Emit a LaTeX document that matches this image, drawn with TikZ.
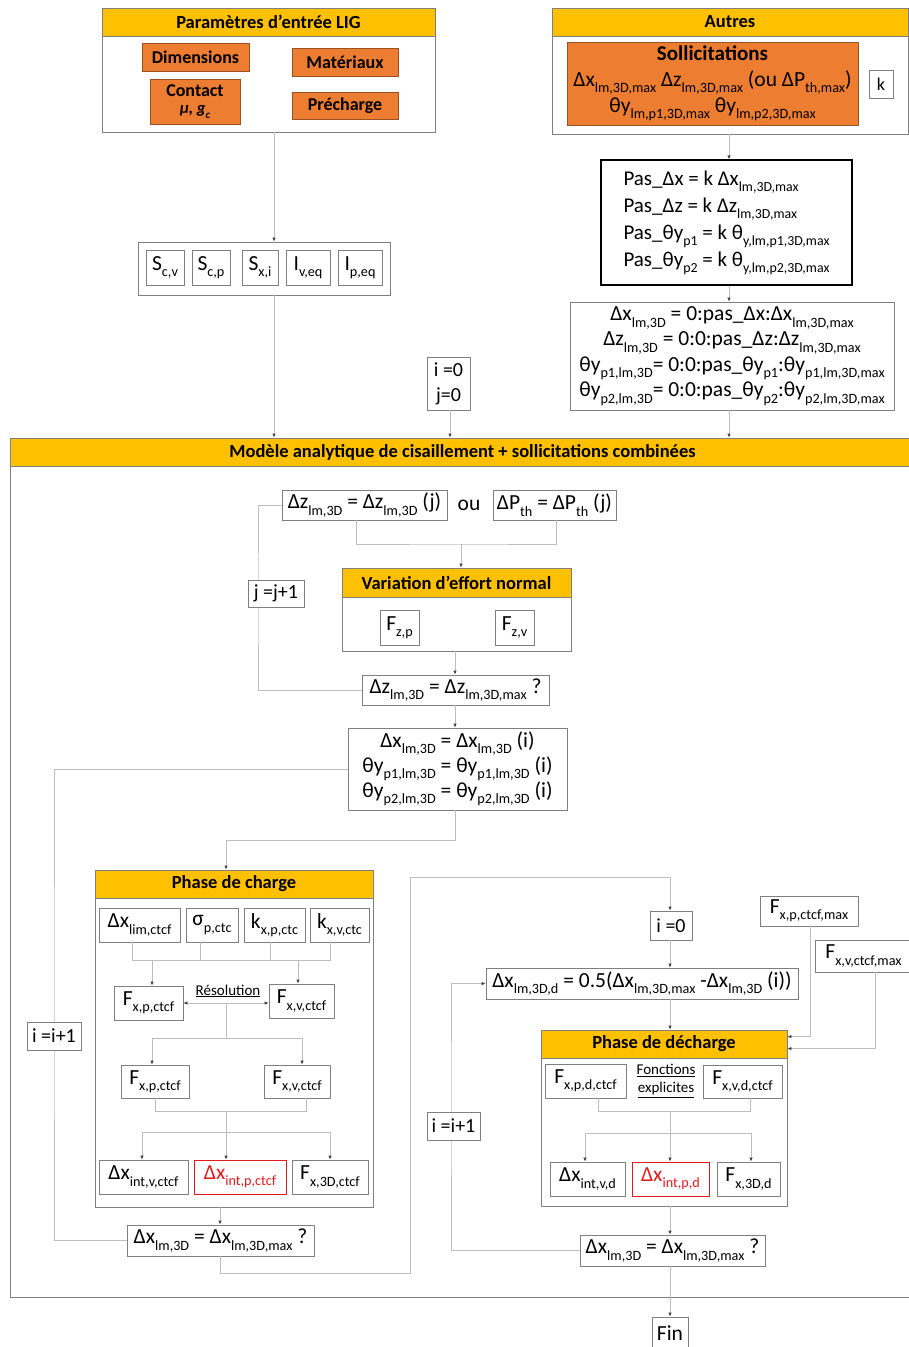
\documentclass[tikz,border=0pt]{standalone}
\usepackage{fontspec}
\setmainfont{Carlito}
\usetikzlibrary{arrows.meta,positioning}
\definecolor{HeadYellow}{HTML}{FFC000}
\definecolor{BoxOrange}{HTML}{ED7D31}
\definecolor{OrangeEdge}{HTML}{9C5220}
\definecolor{EdgeGray}{HTML}{7F7F7F}
\definecolor{LinkGray}{HTML}{BDBDBD}
\definecolor{TipInk}{HTML}{404040}
\definecolor{AlertRed}{HTML}{E31A1C}
\newcommand\dn[1]{\raisebox{-0.3em}{\scalebox{0.66}{#1}}}

\begin{document}
\begin{tikzpicture}[x=1pt, y=-1pt,
  sz/.style 2 args={minimum width=#1pt, minimum height=#2pt},
  frame/.style={draw=EdgeGray, line width=0.8pt, inner sep=0pt},
  head/.style={draw=EdgeGray, fill=HeadYellow, line width=0.8pt, inner sep=0pt,
               font=\bfseries\fontsize{18.5}{21}\selectfont},
  obox/.style={draw=OrangeEdge, fill=BoxOrange, line width=0.8pt, inner sep=0pt,
               align=center, font=\bfseries\fontsize{18}{20}\selectfont},
  vbox/.style={draw=EdgeGray, fill=white, line width=0.8pt, inner sep=0pt,
               align=center, font=\fontsize{21.5}{25}\selectfont},
  rbox/.style={vbox, draw=AlertRed, text=AlertRed},
  note/.style={inner sep=0pt, align=center, font=\fontsize{15}{18}\selectfont},
  wire/.style={draw=LinkGray, line width=0.9pt},
  link/.style={wire, -{Latex[length=4pt,width=3.5pt,color=TipInk]}},
  twolink/.style={wire, {Latex[length=4pt,width=3.5pt,color=TipInk]}-{Latex[length=4pt,width=3.5pt,color=TipInk]}}
]
\useasboundingbox (0,0) rectangle (909,1347);

\node[frame, sz={333}{124}] (lig) at (268.5,70) {};
\node[head, sz={333}{28}] (ligh) at (268.5,22) {Paramètres d’entrée LIG};
\node[obox, sz={107}{28}] (dim) at (195.5,57) {Dimensions};
\node[obox, sz={106}{28}] (mat) at (345,62) {Matériaux};
\node[obox, sz={90}{45}] (con) at (195,101.5) {Contact\\[-3pt]{\fontsize{16.5}{17}\selectfont\itshape μ, g\dn{c}}};
\node[obox, sz={106}{27}] (pre) at (345,105.5) {Précharge};

\node[frame, sz={356}{126}] (aut) at (730,71) {};
\node[head, sz={356}{28}] (auth) at (730,22) {Autres};
\node[obox, sz={291}{83}, font=\fontsize{21.5}{26}\selectfont] (sol) at (712.5,83.5)
  {\textbf{\fontsize{21}{24}\selectfont Sollicitations}\\Δx\dn{lm,3D,max} Δz\dn{lm,3D,max} (ou ΔP\dn{th,max})\\θy\dn{lm,p1,3D,max} θy\dn{lm,p2,3D,max}};
\node[vbox, sz={24}{28}, font=\fontsize{18}{20}\selectfont] (k) at (881,84) {k};

\node[frame, sz={252}{53}] (sgrp) at (264,268.5) {};
\node[vbox, sz={38}{35}] (scv) at (165,267.5) {S\dn{c,v}};
\node[vbox, sz={38}{35}] (scp) at (211,267.5) {S\dn{c,p}};
\node[vbox, sz={36}{35}] (sxi) at (260,267.5) {S\dn{x,i}};
\node[vbox, sz={44}{35}] (ive) at (308,267.5) {I\dn{v,eq}};
\node[vbox, sz={44}{35}] (ipe) at (360,267.5) {I\dn{p,eq}};

\node[vbox, sz={251}{125}, draw=black, line width=1.3pt, align=left, font=\fontsize{21}{27}\selectfont] (pas) at (726.5,222.5)
  {Pas\_Δx = k Δx\dn{lm,3D,max}\\Pas\_Δz = k Δz\dn{lm,3D,max}\\Pas\_θy\dn{p1} = k θ\dn{y,lm,p1,3D,max}\\Pas\_θy\dn{p2} = k θ\dn{y,lm,p2,3D,max}};
\node[vbox, sz={324}{108}, font=\fontsize{21.5}{25.3}\selectfont] (rng) at (732,356)
  {Δx\dn{lm,3D} = 0:pas\_Δx:Δx\dn{lm,3D,max}\\Δz\dn{lm,3D} = 0:0:pas\_Δz:Δz\dn{lm,3D,max}\\θy\dn{p1,lm,3D}= 0:0:pas\_θy\dn{p1}:θy\dn{p1,lm,3D,max}\\θy\dn{p2,lm,3D}= 0:0:pas\_θy\dn{p2}:θy\dn{p2,lm,3D,max}};

\node[vbox, sz={43}{53}, font=\fontsize{20}{25}\selectfont] (ij) at (448.5,383.5) {i =0\\j=0};

\node[frame, sz={905}{859}] (main) at (462.5,867.5) {};
\node[head, sz={905}{28}, font=\bfseries\fontsize{18.5}{21}\selectfont] (mainh) at (462.5,452) {Modèle analytique de cisaillement + sollicitations combinées};

\node[vbox, sz={165}{30}] (dz) at (364.5,505) {Δz\dn{lm,3D} = Δz\dn{lm,3D} (j)};
\node[note, font=\fontsize{21.5}{25}\selectfont] (ou) at (469,505) {ou};
\node[vbox, sz={123}{30}] (dp) at (554.5,505) {ΔP\dn{th} = ΔP\dn{th} (j)};
\node[frame, sz={229}{83}] (var) at (456.5,609.5) {};
\node[head, sz={229}{29}] (varh) at (456.5,582.5) {Variation d’effort normal};
\node[vbox, sz={39}{35}] (fzp) at (399.5,627.5) {F\dn{z,p}};
\node[vbox, sz={39}{35}] (fzv) at (514.5,627.5) {F\dn{z,v}};
\node[vbox, sz={187}{30}] (dzq) at (455.5,690) {Δz\dn{lm,3D} = Δz\dn{lm,3D,max} ?};
\node[vbox, sz={219}{82}, font=\fontsize{21.5}{25}\selectfont] (dxi) at (457.5,769)
  {Δx\dn{lm,3D} = Δx\dn{lm,3D} (i)\\θy\dn{p1,lm,3D} = θy\dn{p1,lm,3D} (i)\\θy\dn{p2,lm,3D} = θy\dn{p2,lm,3D} (i)};

\node[frame, sz={278}{337}] (chg) at (234,1038.5) {};
\node[head, sz={278}{28}] (chgh) at (234,884) {Phase de charge};
\node[vbox, sz={81}{34}] (a1) at (139.5,925) {Δx\dn{lim,ctcf}};
\node[vbox, sz={52}{34}] (a2) at (212,925) {σ\dn{p,ctc}};
\node[vbox, sz={61}{34}] (a3) at (274.5,925) {k\dn{x,p,ctc}};
\node[vbox, sz={59}{34}] (a4) at (339.5,925) {k\dn{x,v,ctc}};
\node[vbox, sz={69}{34}] (b1) at (148.5,1003) {F\dn{x,p,ctcf}};
\node[vbox, sz={65}{34}] (b2) at (301.5,1001) {F\dn{x,v,ctcf}};
\node[note] (res) at (228,991) {\underline{Résolution}};
\node[vbox, sz={68}{33}] (c1) at (155,1081.5) {F\dn{x,p,ctcf}};
\node[vbox, sz={66}{33}] (c2) at (297,1081.5) {F\dn{x,v,ctcf}};
\node[vbox, sz={89}{34}] (d1) at (143.5,1177) {Δx\dn{int,v,ctcf}};
\node[rbox, sz={92}{34}] (d2) at (240,1177) {Δx\dn{int,p,ctcf}};
\node[vbox, sz={76}{34}] (d3) at (330,1177) {F\dn{x,3D,ctcf}};
\node[vbox, sz={187}{31}] (dxq1) at (220.5,1240.5) {Δx\dn{lm,3D} = Δx\dn{lm,3D,max} ?};

\node[vbox, sz={42}{29}, font=\fontsize{20}{25}\selectfont] (ibox0) at (671,925.5) {i =0};
\node[vbox, sz={312}{31}] (dxd) at (642,983.5) {Δx\dn{lm,3D,d} = 0.5(Δx\dn{lm,3D,max} -Δx\dn{lm,3D} (i))};
\node[vbox, sz={98}{30}] (fpm) at (809,911) {F\dn{x,p,ctcf,max}};
\node[vbox, sz={97}{32}] (fvm) at (863.5,956) {F\dn{x,v,ctcf,max}};
\node[frame, sz={246}{176}] (dch) at (664,1118) {};
\node[head, sz={246}{28}] (dchh) at (664,1044) {Phase de décharge};
\node[vbox, sz={81}{34}] (e1) at (585.5,1081) {F\dn{x,p,d,ctcf}};
\node[note] (fex) at (666,1081) {\underline{Fonctions}\\\underline{explicites}};
\node[vbox, sz={79}{33}] (e2) at (742.5,1081.5) {F\dn{x,v,d,ctcf}};
\node[vbox, sz={75}{34}] (f1) at (587.5,1179) {Δx\dn{int,v,d}};
\node[rbox, sz={77}{34}] (f2) at (670.5,1179) {Δx\dn{int,p,d}};
\node[vbox, sz={63}{34}] (f3) at (748.5,1179) {F\dn{x,3D,d}};
\node[vbox, sz={185}{31}] (dxq2) at (672.5,1250.5) {Δx\dn{lm,3D} = Δx\dn{lm,3D,max} ?};
\node[vbox, sz={36}{32}] (fin) at (670,1333) {Fin};

\coordinate (jn1) at (461,544);
\coordinate (jloop) at (258,600);
\coordinate (iloop) at (54,1000);
\coordinate (bus1) at (230,960);
\coordinate (bus2) at (226,1038);
\coordinate (bus3) at (226,1111);
\coordinate (bus4) at (226,1132);
\coordinate (rt1) at (410,877);
\coordinate (bus5) at (670,1111);
\coordinate (bus6) at (670,1133);
\coordinate (iloop2) at (451,1100);

\draw[link] ([xshift=5.5pt]lig.south) -- ([xshift=5.5pt]lig.south |- sgrp.north);
\draw[link] ([xshift=10pt]sgrp.south) -- ([xshift=10pt]sgrp.south |- main.north);
\draw[link] ([xshift=1.5pt]ij.south) -- ([xshift=1.5pt]ij.south |- main.north);
\draw[link] ([xshift=-1pt]aut.south) -- ([xshift=-1pt]aut.south |- pas.north);
\draw[link] ([xshift=-1pt]aut.south |- pas.south) -- ([xshift=-1pt]aut.south |- rng.north);
\draw[link] ([xshift=-1pt]aut.south |- rng.south) -- ([xshift=-1pt]aut.south |- main.north);

\draw[wire] ([xshift=-8.5pt]dz.south) |- (jn1) -| ([xshift=1.5pt]dp.south);
\draw[link] (jn1) -- (jn1 |- var.north);
\draw[link] ([xshift=-1.5pt]var.south) -- ([xshift=-1.5pt]var.south |- dzq.north);
\draw[wire] (dzq.west) -| (jloop) |- (dz.west);
\draw[link] ([xshift=-0.5pt]dzq.south) -- ([xshift=-0.5pt]dzq.south |- dxi.north);
\draw[wire] (dxi.west) -| (iloop) |- (dxq1.west);
\draw[link] ([xshift=-2.5pt]dxi.south) -- ++(0,30) -| ([xshift=-8pt]chg.north);

\draw[wire] ([xshift=-7.5pt]a1.south) |- (bus1) -| ([xshift=-9.5pt]a4.south);
\draw[wire] ([xshift=-12pt]a2.south) -- ([xshift=-12pt]a2.south |- bus1);
\draw[wire] ([xshift=-4.5pt]a3.south) -- ([xshift=-4.5pt]a3.south |- bus1);
\draw[link] ([xshift=3.5pt]b1.north |- bus1) -- ([xshift=3.5pt]b1.north);
\draw[link] ([xshift=-3.5pt]b2.north |- bus1) -- ([xshift=-3.5pt]b2.north);
\draw[twolink] (b1.east) -- (b1.east -| b2.west);
\draw[wire] (b1.east -| bus2) -- (bus2);
\draw[link] (bus2) -| ([xshift=-3pt]c1.north);
\draw[link] (bus2) -| ([xshift=5pt]c2.north);
\draw[wire] (c1.south) |- (bus3) -| ([xshift=9pt]c2.south);
\draw[wire] (bus3) -- (bus4);
\draw[link] (bus4) -| ([xshift=-1.5pt]d1.north);
\draw[link] (bus4) -- (bus4 |- d2.north);
\draw[link] (bus4) -| (d3.north);
\draw[link] ([xshift=-14pt]chg.south) -- ([xshift=-14pt]chg.south |- dxq1.north);
\draw[link] ([xshift=-0.5pt]dxq1.south) -- ++(0,17) -| (rt1) -| ([xshift=-1pt]ibox0.north);

\draw[link] ([xshift=-1pt]ibox0.south) -- ([xshift=-1pt]ibox0.south |- dxd.north);
\draw[link] ([xshift=-1pt]ibox0.south |- dxd.south) -- ([xshift=-1pt]ibox0.south |- dch.north);
\draw[link] ([xshift=1pt]fpm.south) |- ([yshift=-7pt]dch.north east);
\draw[link] ([xshift=11.5pt]fvm.south) |- ([yshift=-19pt]dch.north east);
\draw[wire] ([xshift=12.5pt]e1.south) |- (bus5) -| ([xshift=7.5pt]e2.south);
\draw[link] (bus5) -- (bus5 |- f2.north);
\draw[link] (bus6) -| ([xshift=-2.5pt]f1.north);
\draw[link] (bus6) -| ([xshift=2.5pt]f3.north);
\draw[link] ([xshift=6pt]dch.south) -- ([xshift=6pt]dch.south |- dxq2.north);
\draw[link] (dxq2.west) -| (iloop2) |- (dxd.west);
\draw[link] ([xshift=-2.5pt]dxq2.south) -- ([xshift=-2.5pt]dxq2.south |- fin.north);

\node[vbox, sz={56}{27}, font=\fontsize{20}{25}\selectfont] (jinc) at (276,593.5) {j =j+1};
\node[vbox, sz={54}{28}, font=\fontsize{20}{25}\selectfont] (iinc) at (54,1036) {i =i+1};
\node[vbox, sz={53}{28}, font=\fontsize{20}{25}\selectfont] (iinc2) at (453.5,1126) {i =i+1};
\end{tikzpicture}
\end{document}
